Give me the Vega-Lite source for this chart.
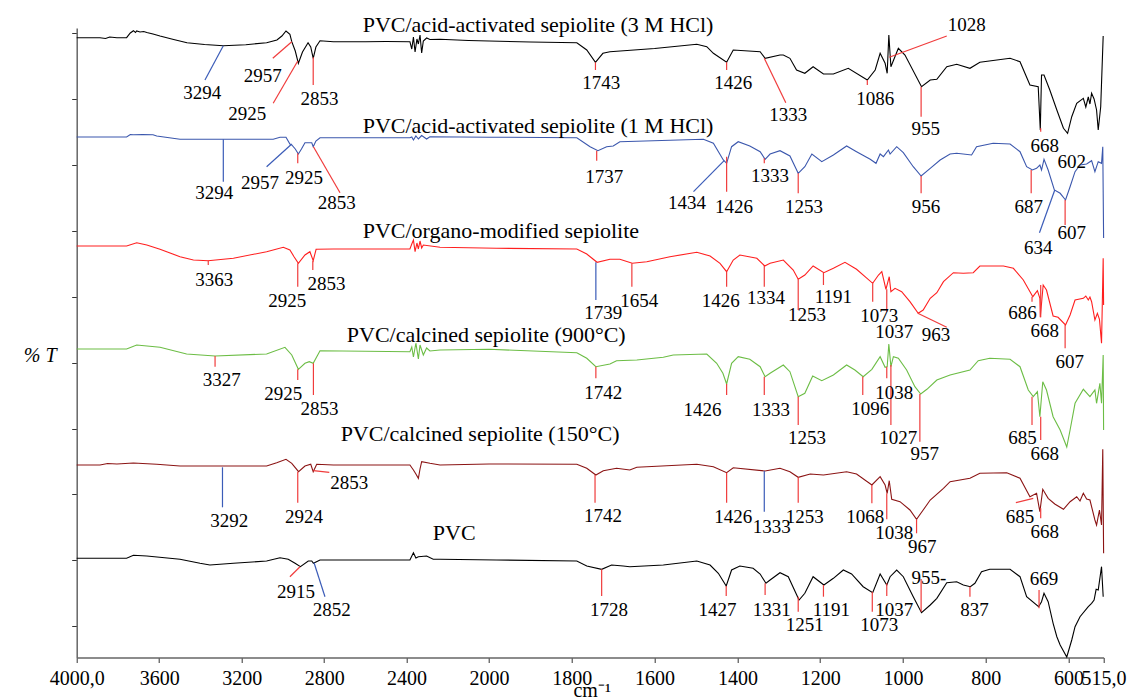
{
"$schema":"https://vega.github.io/schema/vega-lite/v6.json",
"width":1027,"height":629.5,
"autosize":{"type":"none"},
"padding":{"left":76.7,"top":28,"right":28.3,"bottom":42.5},
"background":"white",
"config":{"view":{"stroke":null},"font":"Liberation Serif, serif"},
"datasets":{
"spec":[
{"s":"a","x":4000,"y":621.3},{"s":"a","x":3887,"y":621.3},{"s":"a","x":3860,"y":620.5},{"s":"a","x":3840,"y":622},{"s":"a","x":3805,"y":621.3},{"s":"a","x":3758,"y":621.3},{"s":"a","x":3740,"y":626},{"s":"a","x":3725,"y":628.3},{"s":"a","x":3715,"y":626.5},{"s":"a","x":3709,"y":628},{"s":"a","x":3693,"y":627},{"s":"a","x":3675,"y":627.5},{"s":"a","x":3660,"y":626.5},{"s":"a","x":3630,"y":625},{"s":"a","x":3596,"y":623},{"s":"a","x":3530,"y":619.5},{"s":"a","x":3465,"y":616.3},{"s":"a","x":3380,"y":614.5},{"s":"a","x":3289,"y":613.3},{"s":"a","x":3180,"y":614.3},{"s":"a","x":3079,"y":616.3},{"s":"a","x":3029,"y":619},{"s":"a","x":3005,"y":623},{"s":"a","x":2985,"y":628},{"s":"a","x":2966,"y":624.7},{"s":"a","x":2957,"y":617.3},{"s":"a","x":2940,"y":608},{"s":"a","x":2925,"y":595.7},{"s":"a","x":2905,"y":607},{"s":"a","x":2878,"y":616.3},{"s":"a","x":2865,"y":612},{"s":"a","x":2853,"y":600.7},{"s":"a","x":2840,"y":612},{"s":"a","x":2820,"y":618.3},{"s":"a","x":2755,"y":617.3},{"s":"a","x":2600,"y":617.3},{"s":"a","x":2500,"y":617.5},{"s":"a","x":2384,"y":617.3},{"s":"a","x":2375,"y":610},{"s":"a","x":2367,"y":622},{"s":"a","x":2359,"y":607},{"s":"a","x":2350,"y":620},{"s":"a","x":2343,"y":615},{"s":"a","x":2335,"y":624},{"s":"a","x":2327,"y":606},{"s":"a","x":2319,"y":618},{"s":"a","x":2303,"y":621},{"s":"a","x":2287,"y":619.5},{"s":"a","x":2238,"y":619.7},{"s":"a","x":2100,"y":618.5},{"s":"a","x":2000,"y":618},{"s":"a","x":1900,"y":617},{"s":"a","x":1788,"y":616.3},{"s":"a","x":1764,"y":609},{"s":"a","x":1743,"y":596.7},{"s":"a","x":1725,"y":605.7},{"s":"a","x":1708,"y":607.3},{"s":"a","x":1600,"y":610.5},{"s":"a","x":1498,"y":614.7},{"s":"a","x":1474,"y":612.3},{"s":"a","x":1458,"y":605.7},{"s":"a","x":1426,"y":596.7},{"s":"a","x":1410,"y":609},{"s":"a","x":1345,"y":607.3},{"s":"a","x":1333,"y":600.7},{"s":"a","x":1297,"y":604},{"s":"a","x":1289,"y":604},{"s":"a","x":1273,"y":600.7},{"s":"a","x":1257,"y":589},{"s":"a","x":1237,"y":585.7},{"s":"a","x":1217,"y":592.3},{"s":"a","x":1192,"y":585},{"s":"a","x":1168,"y":585},{"s":"a","x":1132,"y":590.7},{"s":"a","x":1086,"y":579},{"s":"a","x":1067,"y":589},{"s":"a","x":1055,"y":605.7},{"s":"a","x":1043,"y":595.7},{"s":"a","x":1038,"y":585.7},{"s":"a","x":1034,"y":624},{"s":"a","x":1029,"y":592.3},{"s":"a","x":1011,"y":610.7},{"s":"a","x":995,"y":604},{"s":"a","x":955,"y":572.3},{"s":"a","x":934,"y":579},{"s":"a","x":918,"y":579.7},{"s":"a","x":894,"y":592.3},{"s":"a","x":870,"y":594.7},{"s":"a","x":838,"y":590.7},{"s":"a","x":814,"y":596.7},{"s":"a","x":741,"y":600.7},{"s":"a","x":717,"y":597.3},{"s":"a","x":693,"y":574},{"s":"a","x":673,"y":572.3},{"s":"a","x":668,"y":529},{"s":"a","x":665,"y":584},{"s":"a","x":659,"y":584},{"s":"a","x":645,"y":569},{"s":"a","x":628,"y":549},{"s":"a","x":612,"y":530.7},{"s":"a","x":602,"y":525.7},{"s":"a","x":592,"y":542.3},{"s":"a","x":580,"y":555.7},{"s":"a","x":564,"y":560.7},{"s":"a","x":558,"y":552},{"s":"a","x":552,"y":562},{"s":"a","x":548,"y":555},{"s":"a","x":544,"y":565.7},{"s":"a","x":538,"y":560},{"s":"a","x":532,"y":549},{"s":"a","x":528,"y":529},{"s":"a","x":522,"y":552.3},{"s":"a","x":516,"y":623},
{"s":"b","x":4000,"y":522},{"s":"b","x":3758,"y":522},{"s":"b","x":3740,"y":524.5},{"s":"b","x":3725,"y":524.3},{"s":"b","x":3680,"y":524.5},{"s":"b","x":3630,"y":524.3},{"s":"b","x":3612,"y":523},{"s":"b","x":3499,"y":519.7},{"s":"b","x":3300,"y":519.7},{"s":"b","x":3047,"y":519.7},{"s":"b","x":3014,"y":521.7},{"s":"b","x":2985,"y":521.7},{"s":"b","x":2966,"y":515},{"s":"b","x":2957,"y":514},{"s":"b","x":2940,"y":510},{"s":"b","x":2925,"y":505},{"s":"b","x":2910,"y":510},{"s":"b","x":2893,"y":516.3},{"s":"b","x":2860,"y":516.3},{"s":"b","x":2853,"y":512.3},{"s":"b","x":2840,"y":518},{"s":"b","x":2820,"y":521.3},{"s":"b","x":2384,"y":521.3},{"s":"b","x":2375,"y":522},{"s":"b","x":2367,"y":519},{"s":"b","x":2355,"y":523},{"s":"b","x":2343,"y":520},{"s":"b","x":2327,"y":523.5},{"s":"b","x":2303,"y":520},{"s":"b","x":2287,"y":522.3},{"s":"b","x":2000,"y":521.8},{"s":"b","x":1788,"y":521.3},{"s":"b","x":1756,"y":512.3},{"s":"b","x":1737,"y":508.3},{"s":"b","x":1716,"y":512.3},{"s":"b","x":1700,"y":513},{"s":"b","x":1684,"y":517.3},{"s":"b","x":1482,"y":519.7},{"s":"b","x":1458,"y":515.7},{"s":"b","x":1434,"y":499},{"s":"b","x":1426,"y":495.7},{"s":"b","x":1414,"y":512.3},{"s":"b","x":1398,"y":517.3},{"s":"b","x":1370,"y":513},{"s":"b","x":1345,"y":507.3},{"s":"b","x":1333,"y":499.7},{"s":"b","x":1321,"y":505},{"s":"b","x":1297,"y":508.3},{"s":"b","x":1273,"y":503},{"s":"b","x":1253,"y":485.7},{"s":"b","x":1237,"y":492.3},{"s":"b","x":1220,"y":505},{"s":"b","x":1196,"y":497.3},{"s":"b","x":1168,"y":504},{"s":"b","x":1136,"y":513},{"s":"b","x":1112,"y":507.3},{"s":"b","x":1079,"y":499.7},{"s":"b","x":1065,"y":495.7},{"s":"b","x":1055,"y":505},{"s":"b","x":1047,"y":502.3},{"s":"b","x":1035,"y":509},{"s":"b","x":1031,"y":505},{"s":"b","x":1015,"y":512.3},{"s":"b","x":999,"y":506.3},{"s":"b","x":975,"y":492.3},{"s":"b","x":956,"y":483},{"s":"b","x":934,"y":490.7},{"s":"b","x":910,"y":499},{"s":"b","x":886,"y":505},{"s":"b","x":870,"y":505.7},{"s":"b","x":834,"y":504},{"s":"b","x":822,"y":512.3},{"s":"b","x":782,"y":515.7},{"s":"b","x":741,"y":515},{"s":"b","x":717,"y":507.3},{"s":"b","x":701,"y":492.3},{"s":"b","x":687,"y":489},{"s":"b","x":677,"y":490.7},{"s":"b","x":669,"y":494},{"s":"b","x":665,"y":489},{"s":"b","x":659,"y":499.7},{"s":"b","x":649,"y":489},{"s":"b","x":634,"y":469},{"s":"b","x":620,"y":465.7},{"s":"b","x":607,"y":459},{"s":"b","x":596,"y":472.3},{"s":"b","x":584,"y":487.3},{"s":"b","x":572,"y":494},{"s":"b","x":556,"y":495},{"s":"b","x":544,"y":498.3},{"s":"b","x":536,"y":487.3},{"s":"b","x":528,"y":497.3},{"s":"b","x":520,"y":495.7},{"s":"b","x":517,"y":512.3},{"s":"b","x":515,"y":421},
{"s":"c","x":4000,"y":413},{"s":"c","x":3758,"y":413},{"s":"c","x":3709,"y":416.3},{"s":"c","x":3660,"y":414},{"s":"c","x":3596,"y":409.7},{"s":"c","x":3499,"y":402.3},{"s":"c","x":3434,"y":399},{"s":"c","x":3363,"y":398.3},{"s":"c","x":3240,"y":400.7},{"s":"c","x":3079,"y":407.3},{"s":"c","x":2998,"y":411.7},{"s":"c","x":2966,"y":409},{"s":"c","x":2946,"y":402.3},{"s":"c","x":2925,"y":395.7},{"s":"c","x":2893,"y":404},{"s":"c","x":2869,"y":407.3},{"s":"c","x":2853,"y":398.3},{"s":"c","x":2839,"y":409.7},{"s":"c","x":2755,"y":410},{"s":"c","x":2384,"y":410},{"s":"c","x":2375,"y":415},{"s":"c","x":2367,"y":419},{"s":"c","x":2359,"y":407.3},{"s":"c","x":2350,"y":416},{"s":"c","x":2343,"y":410},{"s":"c","x":2335,"y":418},{"s":"c","x":2327,"y":411},{"s":"c","x":2319,"y":414},{"s":"c","x":2238,"y":411.7},{"s":"c","x":1982,"y":410.7},{"s":"c","x":1788,"y":410},{"s":"c","x":1764,"y":405},{"s":"c","x":1739,"y":396.7},{"s":"c","x":1708,"y":399.7},{"s":"c","x":1684,"y":399.7},{"s":"c","x":1654,"y":395.7},{"s":"c","x":1619,"y":397.3},{"s":"c","x":1563,"y":402.3},{"s":"c","x":1498,"y":406.7},{"s":"c","x":1466,"y":403},{"s":"c","x":1442,"y":395.7},{"s":"c","x":1426,"y":387.3},{"s":"c","x":1410,"y":399},{"s":"c","x":1394,"y":404},{"s":"c","x":1353,"y":400.7},{"s":"c","x":1334,"y":393},{"s":"c","x":1321,"y":395.7},{"s":"c","x":1289,"y":399},{"s":"c","x":1265,"y":389},{"s":"c","x":1253,"y":379.7},{"s":"c","x":1237,"y":384},{"s":"c","x":1217,"y":393},{"s":"c","x":1191,"y":386.3},{"s":"c","x":1168,"y":390.7},{"s":"c","x":1140,"y":396.7},{"s":"c","x":1112,"y":389.7},{"s":"c","x":1073,"y":375.7},{"s":"c","x":1059,"y":384},{"s":"c","x":1051,"y":387.3},{"s":"c","x":1041,"y":369.7},{"s":"c","x":1033,"y":382.3},{"s":"c","x":1029,"y":367.3},{"s":"c","x":1019,"y":370.7},{"s":"c","x":1003,"y":367.3},{"s":"c","x":983,"y":357.3},{"s":"c","x":963,"y":345.7},{"s":"c","x":951,"y":349},{"s":"c","x":934,"y":360.7},{"s":"c","x":918,"y":366.3},{"s":"c","x":902,"y":377.3},{"s":"c","x":878,"y":386.3},{"s":"c","x":854,"y":385.7},{"s":"c","x":830,"y":386.3},{"s":"c","x":814,"y":393},{"s":"c","x":757,"y":393},{"s":"c","x":733,"y":390.7},{"s":"c","x":709,"y":379},{"s":"c","x":686,"y":362.3},{"s":"c","x":675,"y":368.3},{"s":"c","x":669,"y":360.7},{"s":"c","x":668,"y":341.7},{"s":"c","x":661,"y":374},{"s":"c","x":653,"y":369},{"s":"c","x":637,"y":343},{"s":"c","x":625,"y":341.7},{"s":"c","x":607,"y":334},{"s":"c","x":596,"y":344},{"s":"c","x":584,"y":359},{"s":"c","x":564,"y":360.7},{"s":"c","x":558,"y":363},{"s":"c","x":552,"y":359},{"s":"c","x":548,"y":362},{"s":"c","x":544,"y":357.3},{"s":"c","x":536,"y":339},{"s":"c","x":530,"y":345.7},{"s":"c","x":525,"y":339.7},{"s":"c","x":520,"y":315.7},{"s":"c","x":516,"y":400.7},{"s":"c","x":515,"y":354},
{"s":"d","x":4000,"y":310},{"s":"d","x":3758,"y":310},{"s":"d","x":3709,"y":314},{"s":"d","x":3596,"y":311.7},{"s":"d","x":3467,"y":305},{"s":"d","x":3329,"y":303},{"s":"d","x":3079,"y":305},{"s":"d","x":2990,"y":311.7},{"s":"d","x":2957,"y":304},{"s":"d","x":2925,"y":289.7},{"s":"d","x":2893,"y":295.7},{"s":"d","x":2872,"y":297.3},{"s":"d","x":2853,"y":295.7},{"s":"d","x":2820,"y":308.3},{"s":"d","x":2384,"y":307.3},{"s":"d","x":2375,"y":312},{"s":"d","x":2367,"y":302},{"s":"d","x":2355,"y":316},{"s":"d","x":2343,"y":300},{"s":"d","x":2335,"y":314},{"s":"d","x":2319,"y":304},{"s":"d","x":2303,"y":311},{"s":"d","x":2287,"y":308},{"s":"d","x":2238,"y":309},{"s":"d","x":2000,"y":309.7},{"s":"d","x":1788,"y":306.3},{"s":"d","x":1764,"y":300.7},{"s":"d","x":1742,"y":292.3},{"s":"d","x":1708,"y":295},{"s":"d","x":1692,"y":298.3},{"s":"d","x":1643,"y":299},{"s":"d","x":1579,"y":301.7},{"s":"d","x":1555,"y":304},{"s":"d","x":1474,"y":305},{"s":"d","x":1450,"y":295.7},{"s":"d","x":1435,"y":285.7},{"s":"d","x":1426,"y":275},{"s":"d","x":1414,"y":295.7},{"s":"d","x":1398,"y":302.3},{"s":"d","x":1370,"y":299.7},{"s":"d","x":1345,"y":292.3},{"s":"d","x":1333,"y":282.3},{"s":"d","x":1321,"y":285.7},{"s":"d","x":1289,"y":294},{"s":"d","x":1273,"y":287.3},{"s":"d","x":1253,"y":262.3},{"s":"d","x":1237,"y":265.7},{"s":"d","x":1218,"y":283},{"s":"d","x":1196,"y":278.3},{"s":"d","x":1168,"y":284},{"s":"d","x":1136,"y":294},{"s":"d","x":1116,"y":289},{"s":"d","x":1096,"y":282.3},{"s":"d","x":1075,"y":289.7},{"s":"d","x":1055,"y":302.3},{"s":"d","x":1043,"y":291.7},{"s":"d","x":1038,"y":292.3},{"s":"d","x":1034,"y":315},{"s":"d","x":1029,"y":292.3},{"s":"d","x":1023,"y":302.3},{"s":"d","x":1011,"y":300.7},{"s":"d","x":991,"y":289},{"s":"d","x":971,"y":272.3},{"s":"d","x":957,"y":265},{"s":"d","x":942,"y":269.7},{"s":"d","x":918,"y":279},{"s":"d","x":886,"y":284},{"s":"d","x":838,"y":289},{"s":"d","x":818,"y":298.3},{"s":"d","x":790,"y":300.7},{"s":"d","x":741,"y":299.7},{"s":"d","x":717,"y":292.3},{"s":"d","x":697,"y":269},{"s":"d","x":685,"y":262.3},{"s":"d","x":675,"y":267.3},{"s":"d","x":669,"y":242.3},{"s":"d","x":662,"y":277.3},{"s":"d","x":653,"y":269},{"s":"d","x":637,"y":242.3},{"s":"d","x":620,"y":229},{"s":"d","x":604,"y":212},{"s":"d","x":596,"y":229},{"s":"d","x":584,"y":255.7},{"s":"d","x":564,"y":269.7},{"s":"d","x":548,"y":262.3},{"s":"d","x":536,"y":269},{"s":"d","x":532,"y":255.7},{"s":"d","x":524,"y":275.7},{"s":"d","x":520,"y":255.7},{"s":"d","x":516,"y":304},{"s":"d","x":515,"y":229},
{"s":"e","x":4000,"y":194},{"s":"e","x":3887,"y":194},{"s":"e","x":3850,"y":195.5},{"s":"e","x":3805,"y":195},{"s":"e","x":3725,"y":196},{"s":"e","x":3680,"y":195.5},{"s":"e","x":3612,"y":194.7},{"s":"e","x":3499,"y":193},{"s":"e","x":3079,"y":193},{"s":"e","x":3030,"y":196.3},{"s":"e","x":2985,"y":199.7},{"s":"e","x":2957,"y":195.7},{"s":"e","x":2924,"y":187.3},{"s":"e","x":2893,"y":193},{"s":"e","x":2865,"y":194.7},{"s":"e","x":2853,"y":187.3},{"s":"e","x":2836,"y":194.7},{"s":"e","x":2755,"y":194},{"s":"e","x":2384,"y":194},{"s":"e","x":2367,"y":189},{"s":"e","x":2355,"y":185},{"s":"e","x":2343,"y":180.7},{"s":"e","x":2335,"y":190},{"s":"e","x":2327,"y":197.3},{"s":"e","x":2287,"y":195.7},{"s":"e","x":2238,"y":194},{"s":"e","x":2000,"y":195},{"s":"e","x":1788,"y":194.7},{"s":"e","x":1764,"y":190.7},{"s":"e","x":1742,"y":184},{"s":"e","x":1724,"y":188.3},{"s":"e","x":1692,"y":190.7},{"s":"e","x":1660,"y":189},{"s":"e","x":1643,"y":191.7},{"s":"e","x":1498,"y":194.7},{"s":"e","x":1458,"y":192.3},{"s":"e","x":1426,"y":186.3},{"s":"e","x":1410,"y":191.3},{"s":"e","x":1333,"y":188},{"s":"e","x":1297,"y":190.7},{"s":"e","x":1273,"y":187.3},{"s":"e","x":1253,"y":181.7},{"s":"e","x":1224,"y":185},{"s":"e","x":1192,"y":184},{"s":"e","x":1136,"y":187.3},{"s":"e","x":1112,"y":185},{"s":"e","x":1075,"y":174},{"s":"e","x":1055,"y":182.3},{"s":"e","x":1043,"y":174},{"s":"e","x":1038,"y":165.7},{"s":"e","x":1033,"y":178.3},{"s":"e","x":1027,"y":159.7},{"s":"e","x":1007,"y":157.3},{"s":"e","x":983,"y":149},{"s":"e","x":967,"y":139.7},{"s":"e","x":951,"y":149},{"s":"e","x":934,"y":159},{"s":"e","x":902,"y":170.7},{"s":"e","x":886,"y":177.3},{"s":"e","x":838,"y":180.7},{"s":"e","x":814,"y":185.7},{"s":"e","x":749,"y":186.3},{"s":"e","x":717,"y":180.7},{"s":"e","x":693,"y":162.3},{"s":"e","x":677,"y":165.7},{"s":"e","x":669,"y":147.3},{"s":"e","x":662,"y":169.7},{"s":"e","x":649,"y":160.7},{"s":"e","x":633,"y":155},{"s":"e","x":612,"y":149.7},{"s":"e","x":596,"y":157.3},{"s":"e","x":580,"y":162.3},{"s":"e","x":572,"y":158},{"s":"e","x":564,"y":165.7},{"s":"e","x":556,"y":160},{"s":"e","x":548,"y":159},{"s":"e","x":536,"y":139},{"s":"e","x":532,"y":134},{"s":"e","x":525,"y":149},{"s":"e","x":520,"y":134},{"s":"e","x":517,"y":209.7},{"s":"e","x":515,"y":105.7},
{"s":"f","x":4000,"y":100.7},{"s":"f","x":3758,"y":100.7},{"s":"f","x":3725,"y":103.7},{"s":"f","x":3660,"y":103},{"s":"f","x":3499,"y":99.7},{"s":"f","x":3402,"y":95.7},{"s":"f","x":3354,"y":94},{"s":"f","x":3240,"y":95.7},{"s":"f","x":3079,"y":98},{"s":"f","x":3014,"y":101.3},{"s":"f","x":2974,"y":99.7},{"s":"f","x":2941,"y":95.7},{"s":"f","x":2915,"y":92.3},{"s":"f","x":2877,"y":98},{"s":"f","x":2860,"y":98},{"s":"f","x":2852,"y":95.7},{"s":"f","x":2820,"y":99},{"s":"f","x":2384,"y":99},{"s":"f","x":2367,"y":106.3},{"s":"f","x":2355,"y":101},{"s":"f","x":2343,"y":102.3},{"s":"f","x":2303,"y":103},{"s":"f","x":2271,"y":99.7},{"s":"f","x":2238,"y":99.7},{"s":"f","x":1982,"y":99},{"s":"f","x":1788,"y":98},{"s":"f","x":1764,"y":93},{"s":"f","x":1728,"y":89.7},{"s":"f","x":1704,"y":94},{"s":"f","x":1676,"y":93},{"s":"f","x":1660,"y":92.3},{"s":"f","x":1579,"y":94},{"s":"f","x":1498,"y":98},{"s":"f","x":1466,"y":94},{"s":"f","x":1446,"y":85.7},{"s":"f","x":1427,"y":73},{"s":"f","x":1414,"y":89},{"s":"f","x":1394,"y":93},{"s":"f","x":1362,"y":90.7},{"s":"f","x":1345,"y":85},{"s":"f","x":1331,"y":75.7},{"s":"f","x":1321,"y":79},{"s":"f","x":1297,"y":86.3},{"s":"f","x":1277,"y":82.3},{"s":"f","x":1251,"y":59},{"s":"f","x":1237,"y":65.7},{"s":"f","x":1217,"y":82.3},{"s":"f","x":1191,"y":74},{"s":"f","x":1168,"y":80.7},{"s":"f","x":1144,"y":89},{"s":"f","x":1124,"y":85},{"s":"f","x":1096,"y":72.3},{"s":"f","x":1073,"y":66.3},{"s":"f","x":1055,"y":85},{"s":"f","x":1039,"y":74},{"s":"f","x":1031,"y":82.3},{"s":"f","x":1015,"y":89},{"s":"f","x":999,"y":82.3},{"s":"f","x":975,"y":62.3},{"s":"f","x":955,"y":46.3},{"s":"f","x":934,"y":54},{"s":"f","x":918,"y":60.7},{"s":"f","x":894,"y":76.3},{"s":"f","x":870,"y":77.3},{"s":"f","x":854,"y":74},{"s":"f","x":837,"y":72.3},{"s":"f","x":826,"y":75.7},{"s":"f","x":810,"y":87.3},{"s":"f","x":790,"y":89.7},{"s":"f","x":741,"y":89.7},{"s":"f","x":717,"y":82.3},{"s":"f","x":701,"y":62.3},{"s":"f","x":672,"y":52.3},{"s":"f","x":665,"y":57.3},{"s":"f","x":659,"y":65.7},{"s":"f","x":649,"y":57.3},{"s":"f","x":637,"y":35.7},{"s":"f","x":628,"y":22.3},{"s":"f","x":620,"y":14},{"s":"f","x":604,"y":2},{"s":"f","x":592,"y":19},{"s":"f","x":584,"y":32.3},{"s":"f","x":572,"y":42.3},{"s":"f","x":552,"y":52.3},{"s":"f","x":544,"y":55.7},{"s":"f","x":538,"y":59},{"s":"f","x":533,"y":69.7},{"s":"f","x":528,"y":69},{"s":"f","x":520,"y":92.3},{"s":"f","x":516,"y":62.3}
],
"lines":[
{"x":3289,"y":613.3,"x2":3378,"y2":579,"c":"b"},{"x":2957,"y":617.3,"x2":3049,"y2":600.7,"c":"r"},{"x":2928,"y":598,"x2":3047,"y2":555.7,"c":"r"},{"x":2853,"y":601.7,"x2":2853,"y2":574,"c":"r"},{"x":1743,"y":596.7,"x2":1743,"y2":589,"c":"r"},{"x":1426,"y":596.7,"x2":1426,"y2":589,"c":"r"},{"x":1335,"y":600.7,"x2":1283,"y2":556.3,"c":"r"},{"x":1086,"y":579,"x2":1086,"y2":574,"c":"r"},{"x":1033,"y":601.7,"x2":894,"y2":623,"c":"r"},{"x":956,"y":572.3,"x2":956,"y2":542.3,"c":"r"},{"x":667,"y":530.7,"x2":667,"y2":527.3,"c":"r"},
{"x":3289,"y":519.7,"x2":3289,"y2":477.3,"c":"b"},{"x":2957,"y":515,"x2":3079,"y2":492.3,"c":"b"},{"x":2928,"y":505.7,"x2":2928,"y2":495.7,"c":"r"},{"x":2852,"y":512.3,"x2":2723,"y2":466.3,"c":"r"},{"x":1740,"y":508.3,"x2":1740,"y2":498.3,"c":"r"},{"x":1432,"y":498.3,"x2":1506,"y2":467.3,"c":"b"},{"x":1426,"y":502.3,"x2":1426,"y2":467.3,"c":"r"},{"x":1335,"y":500.7,"x2":1335,"y2":495.7,"c":"r"},{"x":1253,"y":485.7,"x2":1253,"y2":465.7,"c":"r"},{"x":956,"y":483,"x2":956,"y2":465.7,"c":"r"},{"x":690,"y":489,"x2":690,"y2":465.7,"c":"r"},{"x":633,"y":469,"x2":670,"y2":426.3,"c":"b"},{"x":608,"y":459,"x2":608,"y2":434,"c":"r"},
{"x":3362,"y":398.3,"x2":3362,"y2":394,"c":"r"},{"x":2928,"y":395.7,"x2":2928,"y2":372.3,"c":"r"},{"x":2855,"y":398.3,"x2":2855,"y2":389,"c":"r"},{"x":1742,"y":396.7,"x2":1742,"y2":359,"c":"b"},{"x":1655,"y":395.7,"x2":1655,"y2":372.3,"c":"r"},{"x":1426,"y":387.3,"x2":1426,"y2":372.3,"c":"r"},{"x":1335,"y":393,"x2":1335,"y2":372.3,"c":"r"},{"x":1253,"y":379.7,"x2":1253,"y2":349,"c":"r"},{"x":1192,"y":386.3,"x2":1192,"y2":374,"c":"r"},{"x":1073,"y":375.7,"x2":1073,"y2":357.3,"c":"r"},{"x":1039,"y":369.7,"x2":1039,"y2":347.3,"c":"r"},{"x":964,"y":345.7,"x2":894,"y2":331.7,"c":"r"},{"x":688,"y":362.3,"x2":688,"y2":357.3,"c":"r"},{"x":667,"y":374,"x2":667,"y2":341.7,"c":"r"},{"x":608,"y":334,"x2":608,"y2":310.7,"c":"r"},
{"x":3329,"y":303,"x2":3329,"y2":292.3,"c":"r"},{"x":2928,"y":289.7,"x2":2928,"y2":279,"c":"r"},{"x":2852,"y":295.7,"x2":2852,"y2":264,"c":"r"},{"x":1742,"y":292.3,"x2":1742,"y2":280.7,"c":"r"},{"x":1426,"y":275,"x2":1426,"y2":264,"c":"r"},{"x":1335,"y":282.3,"x2":1335,"y2":264,"c":"r"},{"x":1253,"y":262.3,"x2":1253,"y2":234,"c":"r"},{"x":1097,"y":282.3,"x2":1097,"y2":264,"c":"r"},{"x":1039,"y":292.3,"x2":1039,"y2":280.7,"c":"r"},{"x":1029,"y":294,"x2":1029,"y2":234,"c":"r"},{"x":959,"y":265,"x2":959,"y2":217.3,"c":"r"},{"x":688,"y":262.3,"x2":688,"y2":234,"c":"r"},{"x":667,"y":242.3,"x2":667,"y2":219,"c":"r"},
{"x":3293,"y":191.7,"x2":3293,"y2":151.7,"c":"b"},{"x":2928,"y":187.3,"x2":2928,"y2":156.3,"c":"r"},{"x":2852,"y":188.3,"x2":2775,"y2":186.7,"c":"r"},{"x":1744,"y":184,"x2":1744,"y2":156.3,"c":"r"},{"x":1426,"y":186.3,"x2":1426,"y2":156.3,"c":"r"},{"x":1335,"y":188,"x2":1335,"y2":147.3,"c":"b"},{"x":1253,"y":181.7,"x2":1253,"y2":156.3,"c":"r"},{"x":1075,"y":174,"x2":1075,"y2":155.7,"c":"r"},{"x":1039,"y":165.7,"x2":1039,"y2":139.7,"c":"r"},{"x":967,"y":139.7,"x2":967,"y2":125.7,"c":"r"},{"x":685,"y":160.7,"x2":727,"y2":156.3,"c":"r"},{"x":667,"y":150.7,"x2":667,"y2":140.7,"c":"r"},
{"x":2917,"y":92.3,"x2":2966,"y2":82.3,"c":"r"},{"x":2849,"y":96.3,"x2":2796,"y2":62.3,"c":"b"},{"x":1728,"y":89.7,"x2":1728,"y2":63,"c":"r"},{"x":1427,"y":73,"x2":1427,"y2":63,"c":"r"},{"x":1333,"y":75.7,"x2":1333,"y2":64,"c":"r"},{"x":1253,"y":62.3,"x2":1253,"y2":47.3,"c":"r"},{"x":1192,"y":74,"x2":1192,"y2":62.3,"c":"r"},{"x":1074,"y":67.3,"x2":1074,"y2":47.3,"c":"r"},{"x":1039,"y":75.7,"x2":1039,"y2":63,"c":"r"},{"x":956,"y":80,"x2":956,"y2":47.3,"c":"r"},{"x":838,"y":72.3,"x2":838,"y2":62.3,"c":"r"},{"x":671,"y":69,"x2":671,"y2":50.7,"c":"r"}
],
"labels":[
{"t":"3294","x":3391,"y":566.3},{"t":"2957","x":3098,"y":583},{"t":"2925","x":3173,"y":544.7},{"t":"2853","x":2823,"y":560},{"t":"1743","x":1729,"y":575.7},{"t":"1426","x":1410,"y":575.7},{"t":"1333","x":1277,"y":544},{"t":"1086","x":1067,"y":560},{"t":"1028","x":846,"y":634},{"t":"955","x":945,"y":529.7},{"t":"668","x":657,"y":513.3},{"t":"602","x":592,"y":497.3},
{"t":"3294","x":3333,"y":466.3},{"t":"2957","x":3111,"y":475.7},{"t":"2925","x":2898,"y":480.7},{"t":"2853","x":2739,"y":455.7},{"t":"1737","x":1722,"y":482.3},{"t":"1434","x":1522,"y":456.3},{"t":"1426","x":1408,"y":451.7},{"t":"1333","x":1321,"y":483.3},{"t":"1253","x":1239,"y":452},{"t":"956","x":944,"y":451.7},{"t":"687","x":696,"y":452.3},{"t":"634","x":673,"y":410.7},{"t":"607","x":592,"y":425.7},
{"t":"3363","x":3333,"y":379},{"t":"2925","x":2979,"y":358.3},{"t":"2853","x":2788,"y":375},{"t":"1739","x":1724,"y":345.7},{"t":"1654","x":1637,"y":358.3},{"t":"1426","x":1440,"y":358.3},{"t":"1334","x":1331,"y":360.7},{"t":"1253","x":1232,"y":344},{"t":"1191","x":1168,"y":362.3},{"t":"1073","x":1057,"y":343},{"t":"1037","x":1021,"y":327.3},{"t":"963","x":920,"y":324},{"t":"686","x":711,"y":345.7},{"t":"668","x":657,"y":328.3},{"t":"607","x":597,"y":297.3},
{"t":"3327","x":3297,"y":279},{"t":"2925","x":2998,"y":264.7},{"t":"2853","x":2823,"y":249.7},{"t":"1742","x":1724,"y":265.7},{"t":"1426","x":1484,"y":249},{"t":"1333","x":1319,"y":249},{"t":"1253","x":1232,"y":220.7},{"t":"1096","x":1079,"y":249.7},{"t":"1038","x":1021,"y":265.7},{"t":"1027","x":1011,"y":220.7},{"t":"957","x":947,"y":205},{"t":"685","x":711,"y":220.7},{"t":"668","x":657,"y":205},
{"t":"3292","x":3260,"y":138.3},{"t":"2924","x":2898,"y":142.3},{"t":"2853","x":2678,"y":175.7},{"t":"1742","x":1725,"y":143},{"t":"1426","x":1410,"y":142.3},{"t":"1333","x":1317,"y":132.3},{"t":"1253","x":1237,"y":142.3},{"t":"1068","x":1091,"y":142.3},{"t":"1038","x":1021,"y":126.3},{"t":"967","x":953,"y":111.7},{"t":"685","x":717,"y":141.7},{"t":"668","x":657,"y":127.3},
{"t":"2915","x":2936,"y":67.3},{"t":"2852","x":2763,"y":49},{"t":"1728","x":1710,"y":49},{"t":"1427","x":1448,"y":49},{"t":"1331","x":1317,"y":49},{"t":"1251","x":1237,"y":34},{"t":"1191","x":1173,"y":49},{"t":"1073","x":1057,"y":34},{"t":"1037","x":1021,"y":49},{"t":"955-","x":937,"y":80.7},{"t":"837","x":827,"y":49},{"t":"669","x":659,"y":79.7}
],
"titles":[
{"t":"PVC/acid-activated sepiolite (3 M HCl)","x":2613,"y":627.3},
{"t":"PVC/acid-activated sepiolite (1 M HCl)","x":2613,"y":525.7},
{"t":"PVC/organo-modified sepiolite","x":2613,"y":420.7},
{"t":"PVC/calcined sepiolite (900°C)","x":2690,"y":317.3},
{"t":"PVC/calcined sepiolite (150°C)","x":2720,"y":218.3},
{"t":"PVC","x":2273,"y":119}
]
},
"encoding":{
"x":{"field":"x","type":"quantitative",
 "scale":{"domain":[4000,2000,515],"range":[0,412.4,1026.9],"nice":false,"zero":false},
 "axis":{"values":[4000,3600,3200,2800,2400,2000,1800,1600,1400,1200,1000,800,600,515],"format":"d",
  "labelExpr":"datum.value==4000?'4000,0':(datum.value==515?'515,0':datum.label)",
  "labelFont":"Liberation Serif, serif","labelFontSize":20,"labelColor":"#000","labelBaseline":"middle","labelPadding":16,
  "labelOverlap":false,"labelBound":false,"labelFlush":false,"tickSize":5,"tickColor":"#333","domainColor":"#666","domainWidth":1.5,"grid":false,
  "title":"cm⁻¹","titleFont":"Liberation Serif, serif","titleFontSize":20,"titleFontWeight":"normal","titleColor":"#000","titleX":515,"titleY":39,"titleAlign":"center","titleBaseline":"alphabetic"}},
"y":{"field":"y","type":"quantitative",
 "scale":{"domain":[1.5,631],"nice":false,"zero":false},
 "axis":{"values":[33,99,165,230.5,296,362,428,494,560,626],"labels":false,"tickSize":5,"tickColor":"#333","domainColor":"#666","domainWidth":1.5,"grid":false,
  "title":"% T","titleFont":"Liberation Serif, serif","titleFontSize":20,"titleFontWeight":"normal","titleFontStyle":"italic","titleColor":"#000","titleAngle":0,"titleX":-37,"titleY":327,"titleAlign":"center","titleBaseline":"middle"}}
},
"layer":[
{"data":{"name":"spec"},"mark":{"type":"line","strokeWidth":1.1},
 "encoding":{"color":{"field":"s","type":"nominal","legend":null,"scale":{"domain":["a","b","c","d","e","f"],"range":["#000000","#3b57ad","#ff1f1f","#6cbd45","#8b1414","#000000"]}}}},
{"data":{"name":"lines"},"mark":{"type":"rule","strokeWidth":1.2},
 "encoding":{"x2":{"field":"x2"},"y2":{"field":"y2"},"color":{"field":"c","type":"nominal","legend":null,"scale":{"domain":["r","b"],"range":["#f03c3c","#3b5cb8"]}}}},
{"data":{"name":"labels"},"mark":{"type":"text","font":"Liberation Serif, serif","fontSize":19,"align":"center","baseline":"middle","color":"#000"},
 "encoding":{"text":{"field":"t","type":"nominal"}}},
{"data":{"name":"titles"},"mark":{"type":"text","font":"Liberation Serif, serif","fontSize":22,"align":"left","baseline":"alphabetic","color":"#000"},
 "encoding":{"text":{"field":"t","type":"nominal"}}}
],
"resolve":{"scale":{"color":"independent"}}
}
